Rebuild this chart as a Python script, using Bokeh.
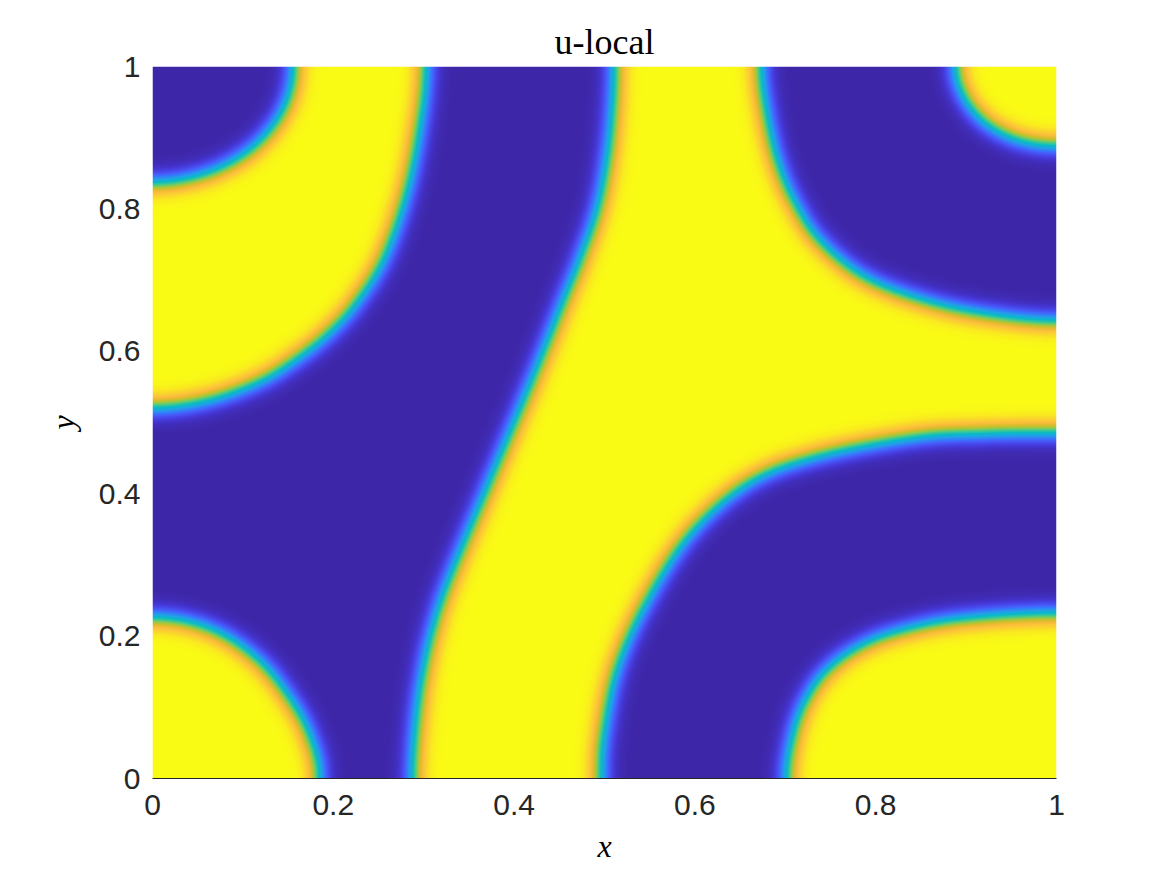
import numpy as np
from bokeh.plotting import figure
from bokeh.models import LinearColorMapper, FixedTicker, Range1d
from bokeh.embed import file_html
from bokeh.resources import INLINE

# ---- interface curves of the u field (level u = 0) ----
a_x = [0.000, 0.060, 0.110, 0.144, 0.156]
a_y = [0.837, 0.850, 0.885, 0.938, 1.000]

b_x = [0.000, 0.060, 0.119, 0.164, 0.200, 0.229, 0.256, 0.279, 0.294, 0.302]
b_y = [0.521, 0.531, 0.558, 0.594, 0.632, 0.675, 0.732, 0.815, 0.905, 1.000]

c_x = [0.511, 0.509, 0.503, 0.492, 0.473, 0.455, 0.420, 0.374, 0.328, 0.310, 0.298, 0.291, 0.288]
c_y = [1.000, 0.938, 0.868, 0.798, 0.728, 0.671, 0.559, 0.419, 0.278, 0.208, 0.138, 0.067, 0.000]

e_x = [0.000, 0.064, 0.118, 0.158, 0.178, 0.184]
e_y = [0.226, 0.210, 0.165, 0.100, 0.045, 0.000]

f_x = [0.496, 0.499, 0.514, 0.547, 0.595, 0.658, 0.731, 0.842, 0.920, 1.000]
f_y = [0.000, 0.063, 0.156, 0.250, 0.344, 0.414, 0.451, 0.479, 0.485, 0.486]

g_x = [0.702, 0.707, 0.720, 0.745, 0.785, 0.835, 0.900, 1.000]
g_y = [0.000, 0.050, 0.102, 0.150, 0.187, 0.210, 0.225, 0.232]

h_x = [0.673, 0.679, 0.691, 0.709, 0.737, 0.783, 0.840, 0.910, 1.000]
h_y = [1.000, 0.935, 0.868, 0.812, 0.757, 0.708, 0.677, 0.655, 0.643]

i_x = [0.889, 0.898, 0.922, 0.958, 1.000]
i_y = [1.000, 0.958, 0.921, 0.897, 0.889]

x_ticks = [0, 0.2, 0.4, 0.6, 0.8, 1]
y_ticks = [0, 0.2, 0.4, 0.6, 0.8, 1]
tick_labels = {0: "0", 0.2: "0.2", 0.4: "0.4", 0.6: "0.6", 0.8: "0.8", 1: "1"}

# parula anchor colours
parula_anchor = [
    (0.2422, 0.1504, 0.6603), (0.2704, 0.2138, 0.8346), (0.2813, 0.2985, 0.9397),
    (0.2710, 0.3860, 0.9898), (0.2006, 0.4803, 0.9906), (0.1716, 0.5655, 0.9393),
    (0.1354, 0.6317, 0.8953), (0.0855, 0.6865, 0.8513), (0.0046, 0.7192, 0.7941),
    (0.1141, 0.7531, 0.7019), (0.2118, 0.7828, 0.5983), (0.3548, 0.8016, 0.4669),
    (0.5470, 0.7957, 0.3159), (0.7344, 0.7679, 0.1852), (0.8804, 0.7372, 0.1650),
    (0.9900, 0.7365, 0.2429), (0.9835, 0.8280, 0.1817), (0.9769, 0.9839, 0.0805),
]

FW, FH = 904, 712  # frame size in px (image resolution)


def ghost(end, nxt):
    """Mirror the neighbour across the box edge the end point lies on,
    so the curve meets the edge at a right angle."""
    g = 2 * end - nxt
    if abs(end[0]) < 1e-6:
        g = np.array([-nxt[0], nxt[1]])
    elif abs(end[0] - FW) < 1e-6:
        g = np.array([2 * FW - nxt[0], nxt[1]])
    elif abs(end[1]) < 1e-6:
        g = np.array([nxt[0], -nxt[1]])
    elif abs(end[1] - FH) < 1e-6:
        g = np.array([nxt[0], 2 * FH - nxt[1]])
    return g


def smooth(cx, cy, sub=24):
    """Catmull-Rom curve through the read points (drawing only)."""
    P = np.column_stack([np.asarray(cx) * FW, np.asarray(cy) * FH])
    Q = np.vstack([ghost(P[0], P[1]), P, ghost(P[-1], P[-2])])
    out = []
    s = np.linspace(0, 1, sub, endpoint=False)[:, None]
    for k in range(1, len(Q) - 2):
        p0, p1, p2, p3 = Q[k - 1], Q[k], Q[k + 1], Q[k + 2]
        seg = 0.5 * ((2 * p1) + (-p0 + p2) * s + (2 * p0 - 5 * p1 + 4 * p2 - p3) * s ** 2
                     + (-p0 + 3 * p1 - 3 * p2 + p3) * s ** 3)
        out.append(seg)
    out.append(P[-1:])
    D = np.vstack(out)
    return D[:, 0], D[:, 1]


A = smooth(a_x, a_y); B = smooth(b_x, b_y); C = smooth(c_x, c_y); E = smooth(e_x, e_y)
F = smooth(f_x, f_y); G = smooth(g_x, g_y); H = smooth(h_x, h_y); I = smooth(i_x, i_y)
interfaces = [A, B, C, E, F, G, H, I]


def cat(*parts):
    return (np.concatenate([np.atleast_1d(p[0]) for p in parts]),
            np.concatenate([np.atleast_1d(p[1]) for p in parts]))


def rev(c):
    return c[0][::-1], c[1][::-1]


yellow_regions = [
    cat(A, rev(B)),
    cat(E, (0.0, 0.0)),
    cat(C, F, rev(H)),
    cat(G, (FW * 1.0, 0.0)),
    cat(I, (FW * 1.0, FH * 1.0)),
]

# ---- build the field (pixel units) ----
xs = np.arange(FW) + 0.5
ys = np.arange(FH) + 0.5
R = 60.0
dist = np.full((FH, FW), R)
for qx, qy in interfaces:
    for k in range(len(qx) - 1):
        ax_, ay_, bx_, by_ = qx[k], qy[k], qx[k + 1], qy[k + 1]
        i0 = max(0, int(min(ax_, bx_) - R)); i1 = min(FW, int(max(ax_, bx_) + R) + 1)
        j0 = max(0, int(min(ay_, by_) - R)); j1 = min(FH, int(max(ay_, by_) + R) + 1)
        if i0 >= i1 or j0 >= j1:
            continue
        SX, SY = np.meshgrid(xs[i0:i1], ys[j0:j1])
        dx, dy = bx_ - ax_, by_ - ay_
        L2 = dx * dx + dy * dy
        if L2 == 0:
            continue
        t = np.clip(((SX - ax_) * dx + (SY - ay_) * dy) / L2, 0, 1)
        d = np.hypot(SX - (ax_ + t * dx), SY - (ay_ + t * dy))
        sub_ = dist[j0:j1, i0:i1]
        np.minimum(sub_, d, out=sub_)

yellow = np.zeros((FH, FW), dtype=bool)
for rx, ry in yellow_regions:
    inside = np.zeros((FH, FW), dtype=bool)
    n = len(rx)
    for i in range(n):
        j = i - 1
        xi, yi, xj, yj = rx[i], ry[i], rx[j], ry[j]
        if yi == yj:
            continue
        lo, hi = min(yi, yj), max(yi, yj)
        r0 = np.searchsorted(ys, lo, "left"); r1 = np.searchsorted(ys, hi, "left")
        if r0 >= r1:
            continue
        yy = ys[r0:r1]
        xc = (xj - xi) * (yy - yi) / (yj - yi) + xi
        inside[r0:r1] ^= xs[None, :] < xc[:, None]
    yellow |= inside

W = 10.0
u = (np.where(yellow, 1.0, -1.0) * np.tanh(dist / W)).astype(np.float32)

# palette
anc = np.array(parula_anchor)
pos = np.linspace(0, 1, len(anc))
tt = np.linspace(0, 1, 256)
rgb = np.stack([np.interp(tt, pos, anc[:, c]) for c in range(3)], axis=1)
palette = ["#%02x%02x%02x" % tuple(int(round(v * 255)) for v in row) for row in rgb]

# ---- figure ----
p = figure(width=1151, height=875, x_range=Range1d(0, 1), y_range=Range1d(0, 1),
           output_backend="svg", toolbar_location=None,
           min_border_left=152, min_border_right=95, min_border_top=66, min_border_bottom=97)
p.outline_line_color = None
p.grid.visible = False
p.background_fill_color = "white"

mapper = LinearColorMapper(palette=palette, low=-1, high=1)
p.image(image=[u], x=0, y=0, dw=1, dh=1, color_mapper=mapper)

for ax in (p.xaxis[0], p.yaxis[0]):
    ax.major_tick_in = 0
    ax.major_tick_out = 0
    ax.minor_tick_in = 0
    ax.minor_tick_out = 0
    ax.major_label_text_font = "Liberation Sans"
    ax.major_label_text_font_size = "30px"
    ax.major_label_text_color = "#262626"
    ax.axis_label_text_font = "Liberation Serif"
    ax.axis_label_text_font_style = "italic"
    ax.axis_label_text_font_size = "32px"
    ax.axis_label_text_color = "black"
p.xaxis[0].ticker = FixedTicker(ticks=x_ticks)
p.yaxis[0].ticker = FixedTicker(ticks=y_ticks)
p.xaxis[0].major_label_overrides = tick_labels
p.yaxis[0].major_label_overrides = tick_labels
p.xaxis[0].axis_line_color = "#262626"
p.yaxis[0].axis_line_color = None
p.xaxis[0].major_label_standoff = 16
p.yaxis[0].major_label_standoff = 12
p.xaxis[0].axis_label = "x"
p.yaxis[0].axis_label = "y"
p.xaxis[0].axis_label_standoff = 10
p.yaxis[0].axis_label_standoff = 15

p.title.text = "u-local"
p.title.align = "center"
p.title.text_font = "Liberation Serif"
p.title.text_font_style = "normal"
p.title.text_font_size = "36px"
p.title.text_color = "black"
p.title.standoff = 10

open("out.html", "w").write(file_html(p, INLINE))
